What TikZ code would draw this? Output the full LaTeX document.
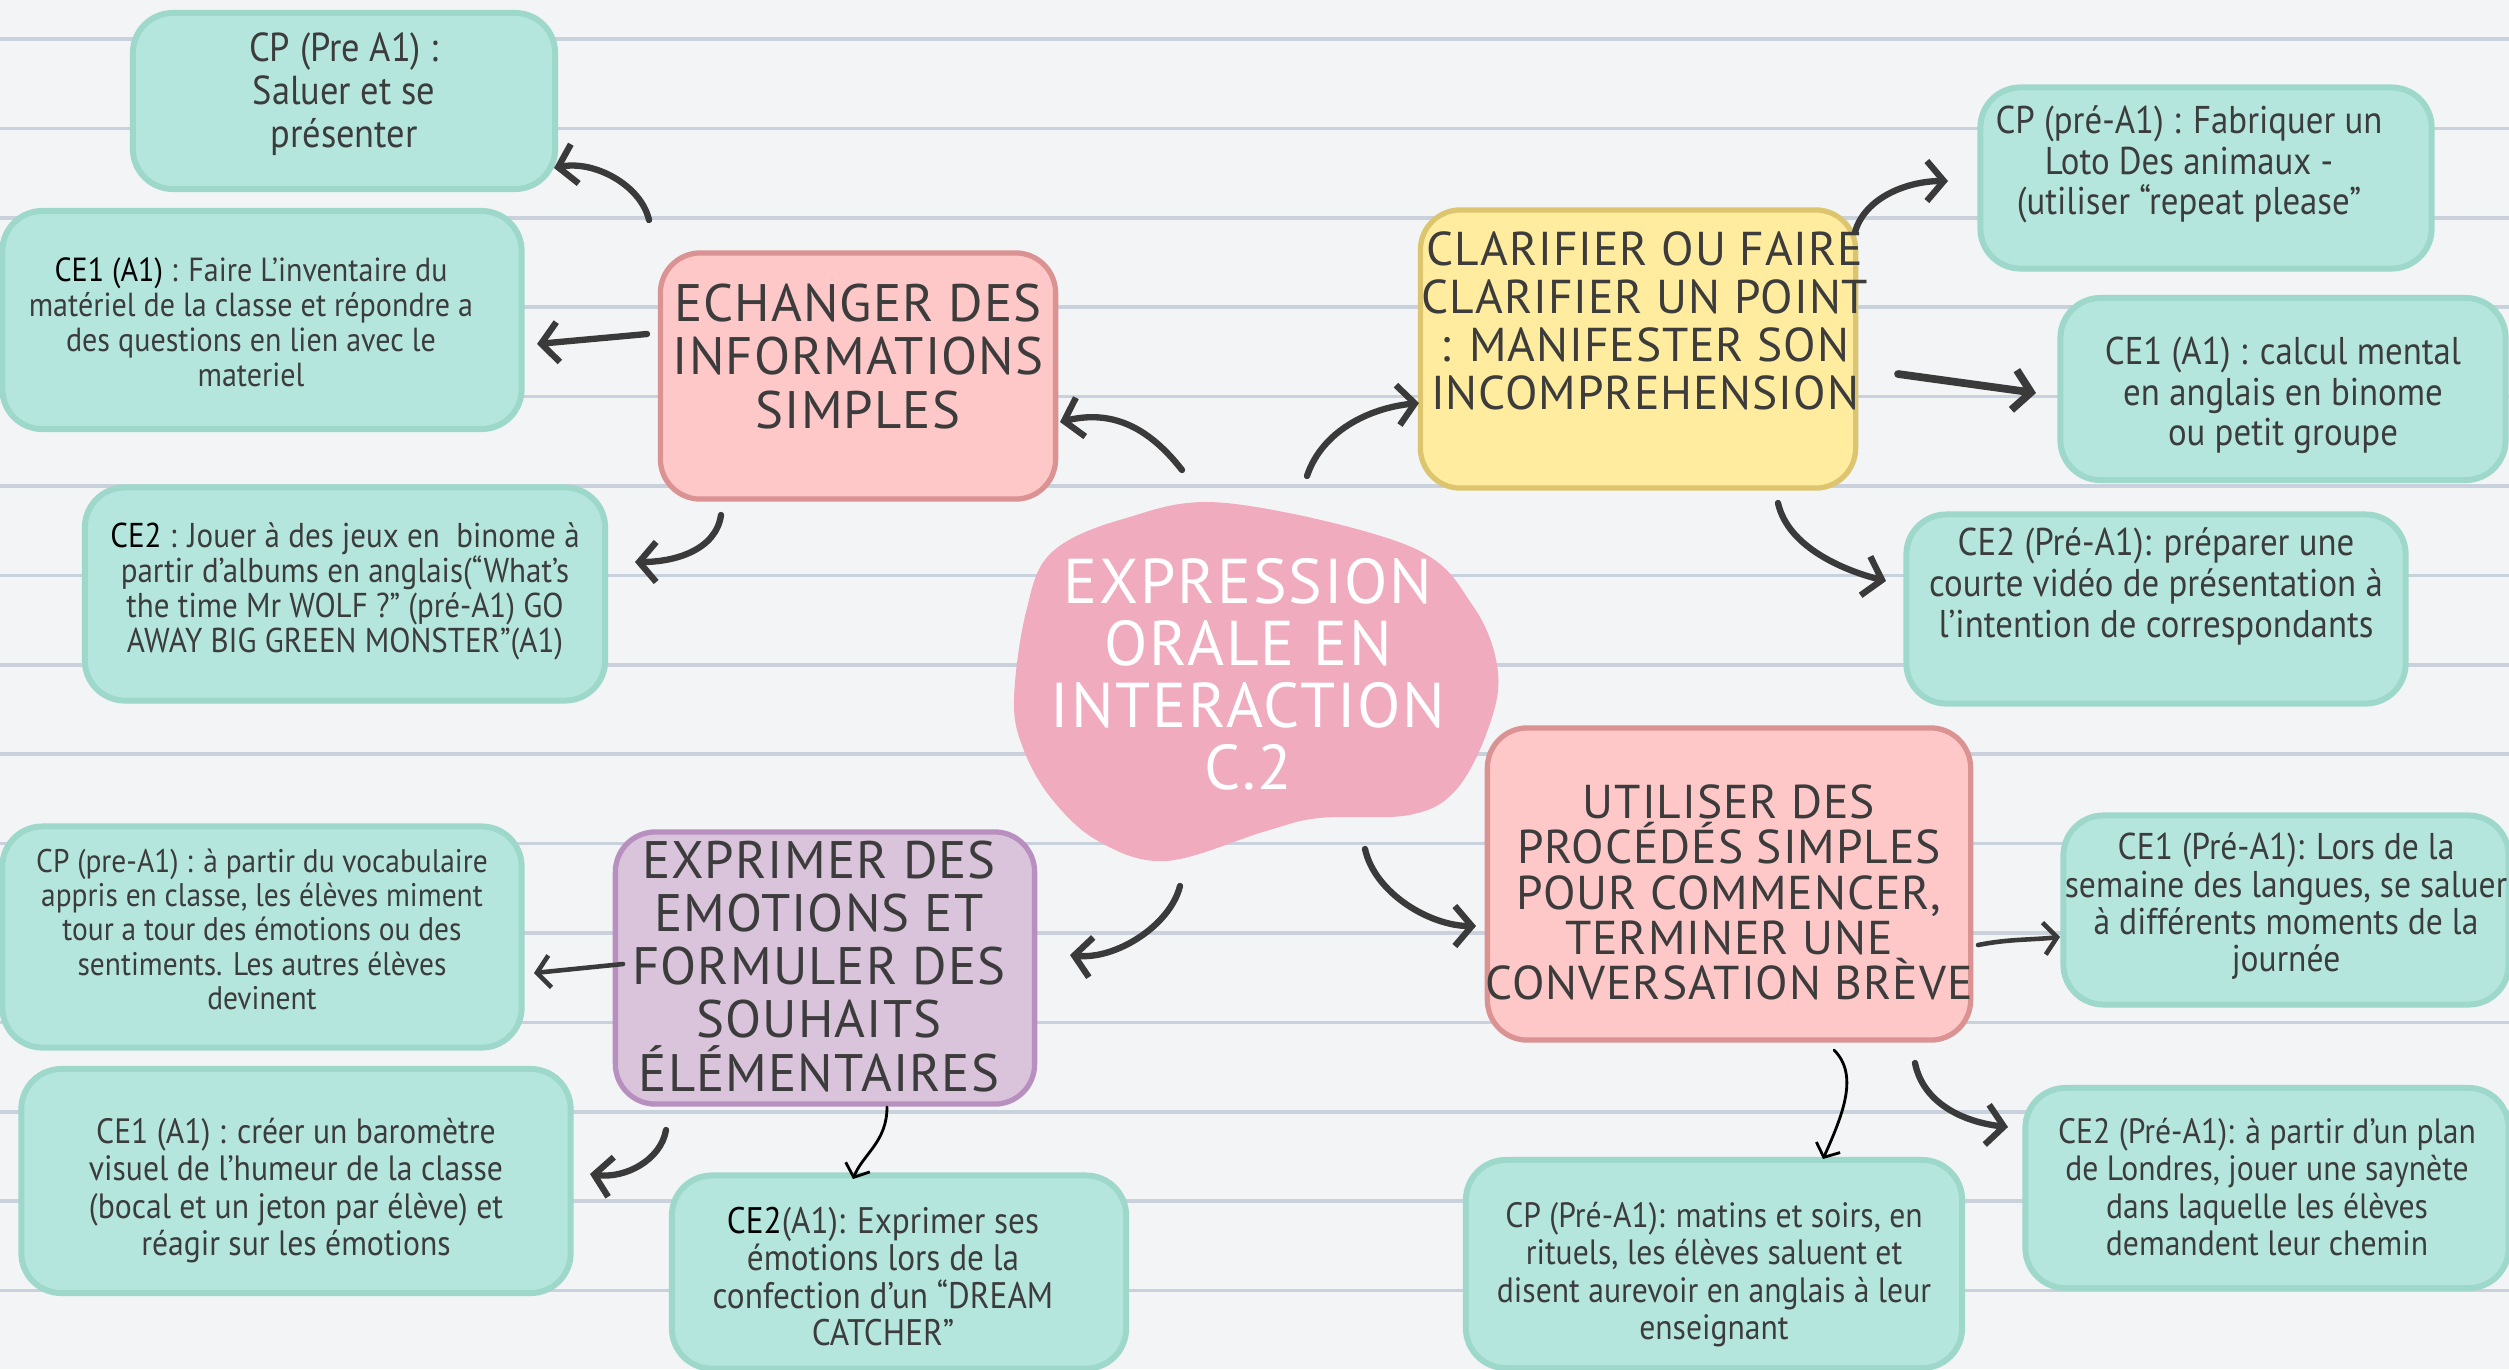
\documentclass[tikz,border=0pt]{standalone}
\usepackage{fontspec}
\setmainfont{PT Sans}[FakeStretch=0.9]
\newfontfamily\hfont{PT Sans}[LetterSpace=2]
\newfontfamily\cfont{PT Sans}[LetterSpace=3]
\usetikzlibrary{arrows.meta,calc}
\definecolor{bg}{HTML}{F2F4F6}
\definecolor{rulec}{HTML}{C9D1DC}
\definecolor{tealf}{HTML}{B4E6DE}
\definecolor{tealb}{HTML}{9ED8CB}
\definecolor{pinkf}{HTML}{FFC8C8}
\definecolor{pinkb}{HTML}{DA9292}
\definecolor{yelf}{HTML}{FFEC9E}
\definecolor{yelb}{HTML}{DCC56E}
\definecolor{purf}{HTML}{D9C4DB}
\definecolor{purb}{HTML}{B890C0}
\definecolor{blobc}{HTML}{F0ABBE}
\definecolor{arrc}{HTML}{3A3A3A}
\definecolor{txt}{HTML}{3C3C3C}
\newcommand\fsz[2]{\fontsize{#1}{#2}\selectfont}
\newcommand\tx[3]{\raisebox{#2}[\height][\depth]{\makebox[0pt]{\hspace*{#1}\vbox{\let\\\cr\lineskiplimit=-\maxdimen\lineskip=0pt\halign{\hfil\strut##\hfil\cr #3\crcr}}}}}
\begin{document}
\begin{tikzpicture}[x=0.01cm,y=-0.01cm,
  tbox/.style={draw=tealb, fill=tealf, line width=1.7pt, rounded corners=0.4cm, inner sep=0pt, text=txt},
  hbox/.style={line width=1.5pt, rounded corners=0.4cm, inner sep=0pt, text=txt},
  arr/.style={draw=arrc, line width=1.8pt, line cap=round, -{Straight Barb[length=1.7mm,width=4mm]}},
  arrm/.style={draw=arrc, line width=1.3pt, line cap=round, -{Straight Barb[length=1.3mm,width=3.2mm]}},
  arrt/.style={draw=black, line width=0.8pt, line cap=round, -{Straight Barb[length=1.1mm,width=2.6mm]}},
  ruled/.style={draw=rulec, line width=1pt}]
\useasboundingbox (0,0) rectangle (2509,1369);
\fill[bg] (0,0) rectangle (2509,1369);
\foreach \k in {0,...,14} \draw[ruled] (0,{39+89.4*\k}) -- (2509,{39+89.4*\k});

% central blob
\fill[blobc] plot[smooth cycle, tension=0.6] coordinates {(1226,503) (1409,546) (1473,606) (1498,672) (1487,732) (1455,791) (1409,815) (1319,818) (1266,831) (1166,861) (1098,841) (1051,798) (1023,748) (1014,699) (1026,612) (1051,553) (1123,519)};
\node[text=white, font=\cfont\fsz{18}{17.6}] (core) at (1248,673) {\tx{0cm}{-0.10cm}{EXPRESSION\\ORALE EN\\INTERACTION\\C.2}};

% category boxes
\node[hbox, draw=pinkb, fill=pinkf, minimum width=3.95cm, minimum height=2.46cm, font=\hfont\fsz{15}{15.2}] (ech) at (858,376) {\tx{0cm}{0.12cm}{ECHANGER DES\\INFORMATIONS\\SIMPLES}};
\node[hbox, draw=yelb, fill=yelf, minimum width=4.35cm, minimum height=2.78cm, font=\hfont\fsz{13.5}{13.7}] (clar) at (1638,349) {\tx{0.14cm}{0.21cm}{CLARIFIER OU FAIRE\\CLARIFIER UN POINT\\: MANIFESTER SON\\INCOMPREHENSION}};
\node[hbox, draw=pinkb, fill=pinkf, minimum width=4.83cm, minimum height=3.12cm, font=\hfont\fsz{13.5}{12.9}] (util) at (1729,884) {\tx{0cm}{-0.15cm}{UTILISER DES\\PROCÉDÉS SIMPLES\\POUR COMMENCER,\\TERMINER UNE\\CONVERSATION BRÈVE}};
\node[hbox, draw=purb, fill=purf, minimum width=4.19cm, minimum height=2.72cm, font=\hfont\fsz{15}{15.1}] (expr) at (825,968) {\tx{-0.12cm}{-0.06cm}{EXPRIMER DES\\EMOTIONS ET\\FORMULER DES\\SOUHAITS\\ÉLÉMENTAIRES}};

% teal boxes
\node[tbox, minimum width=4.22cm, minimum height=1.76cm, font=\fsz{11.5}{12.1}] (cp1) at (344,101) {\tx{0cm}{0.05cm}{CP (Pre A1) :\\Saluer et se\\présenter}};
\node[tbox, minimum width=5.19cm, minimum height=2.18cm, font=\fsz{9.5}{9.9}] (ce1a) at (262,320) {\tx{-0.22cm}{-0.07cm}{\textcolor{black}{CE1 (A1)} : Faire L’inventaire du\\matériel de la classe et répondre a\\des questions en lien avec le\\materiel}};
\node[tbox, minimum width=5.2cm, minimum height=2.13cm, font=\fsz{9.8}{9.9}] (ce2a) at (345,594) {\tx{0cm}{0.01cm}{\textcolor{black}{CE2} : Jouer à des jeux en \ binome à\\partir d’albums en anglais(“What’s\\the time Mr WOLF ?” (pré-A1) GO\\AWAY BIG GREEN MONSTER”(A1)}};
\node[tbox, minimum width=4.51cm, minimum height=1.81cm, font=\fsz{11}{11.4}] (cpb) at (2206,178) {\tx{-0.34cm}{0.12cm}{CP (pré-A1) : Fabriquer un\\Loto Des animaux -\\(utiliser “repeat please”}};
\node[tbox, minimum width=4.45cm, minimum height=1.82cm, font=\fsz{11}{11.4}] (ce1b) at (2283,389) {\tx{0cm}{-0.08cm}{CE1 (A1) : calcul mental\\en anglais en binome\\ou petit groupe}};
\node[tbox, minimum width=4.99cm, minimum height=1.89cm, font=\fsz{11}{11.7}] (ce2b) at (2156,609) {\tx{0cm}{0.21cm}{CE2 (Pré-A1): préparer une\\courte vidéo de présentation à\\l’intention de correspondants}};
\node[tbox, minimum width=4.45cm, minimum height=1.89cm, font=\fsz{10.6}{10.6}] (ce1c) at (2286,910) {\tx{0cm}{0.02cm}{CE1 (Pré-A1): Lors de la\\semaine des langues, se saluer\\à différents moments de la\\journée}};
\node[tbox, minimum width=4.83cm, minimum height=2.0cm, font=\fsz{10}{10.6}] (ce2c) at (2267,1188) {\tx{0cm}{-0.04cm}{CE2 (Pré-A1): à partir d’un plan\\de Londres, jouer une saynète\\dans laquelle les élèves\\demandent leur chemin}};
\node[tbox, minimum width=4.96cm, minimum height=2.08cm, font=\fsz{10}{10.6}] (cpc) at (1714,1264) {\tx{0cm}{-0.12cm}{CP (Pré-A1): matins et soirs, en\\rituels, les élèves saluent et\\disent aurevoir en anglais à leur\\enseignant}};
\node[tbox, minimum width=5.19cm, minimum height=2.21cm, font=\fsz{9.3}{9.75}] (cpd) at (262,937) {\tx{0cm}{0.03cm}{CP (pre-A1) : à partir du vocabulaire\\appris en classe, les élèves miment\\tour a tour des émotions ou des\\sentiments. Les autres élèves\\devinent}};
\node[tbox, minimum width=5.49cm, minimum height=2.24cm, font=\fsz{10}{10.6}] (ce1d) at (296,1181) {\tx{0cm}{-0.11cm}{CE1 (A1) : créer un baromètre\\visuel de l’humeur de la classe\\(bocal et un jeton par élève) et\\réagir sur les émotions}};
\node[tbox, minimum width=4.54cm, minimum height=1.93cm, font=\fsz{10.5}{10.6}] (ce2d) at (899,1272) {\tx{-0.32cm}{-0.10cm}{\textcolor{black}{CE2}(A1): Exprimer ses\\émotions lors de la\\confection d’un “DREAM\\CATCHER”}};

% connectors
\draw[arr] ($(ech)+(-209,-156)$) .. controls +(-8,-35) and +(40,-8) .. ($(cp1)+(210,67)$);
\draw[arr] ($(ech)+(-211,-42)$) -- ($(ce1a)+(275,24)$);
\draw[arr] ($(ech)+(-137,139)$) .. controls +(-5,35) and +(40,0) .. ($(ce2a)+(290,-32)$);
\draw[arr] ($(core)+(-66,-203)$) .. controls +(-35,-45) and +(50,-12) .. ($(ech)+(202,46)$);
\draw[arr] ($(core)+(59,-197)$) .. controls +(15,-45) and +(-50,5) .. ($(clar)+(-219,54)$);
\draw[arr] ($(clar)+(217,-117)$) .. controls +(10,-35) and +(-40,0) .. ($(cpb)+(-258,3)$);
\draw[arr, line width=2.2pt] ($(clar)+(260,25)$) -- ($(ce1b)+(-247,4)$);
\draw[arr] ($(clar)+(140,154)$) .. controls +(10,45) and +(-40,-10) .. ($(ce2b)+(-270,-28)$);
\draw[arr] ($(core)+(-68,213)$) .. controls +(-10,40) and +(45,5) .. ($(expr)+(245,-13)$);
\draw[arr] ($(core)+(117,176)$) .. controls +(10,45) and +(-45,0) .. ($(util)+(-253,42)$);
\draw[arrm] ($(util)+(249,61)$) .. controls +(30,-6) and +(-30,3) .. ($(ce1c)+(-226,27)$);
\draw[arrt] ($(util)+(105,166)$) .. controls +(25,25) and +(20,-45) .. ($(cpc)+(109,-105)$);
\draw[arr] ($(util)+(186,179)$) .. controls +(8,40) and +(-45,-5) .. ($(ce2c)+(-259,-61)$);
\draw[arrm] ($(expr)+(-202,-4)$) -- ($(cpd)+(272,36)$);
\draw[arr] ($(expr)+(-159,162)$) .. controls +(-5,30) and +(35,5) .. ($(ce1d)+(294,-7)$);
\draw[arrt] ($(expr)+(62,139)$) .. controls +(0,35) and +(10,-25) .. ($(ce2d)+(-46,-93)$);
\end{tikzpicture}
\end{document}
